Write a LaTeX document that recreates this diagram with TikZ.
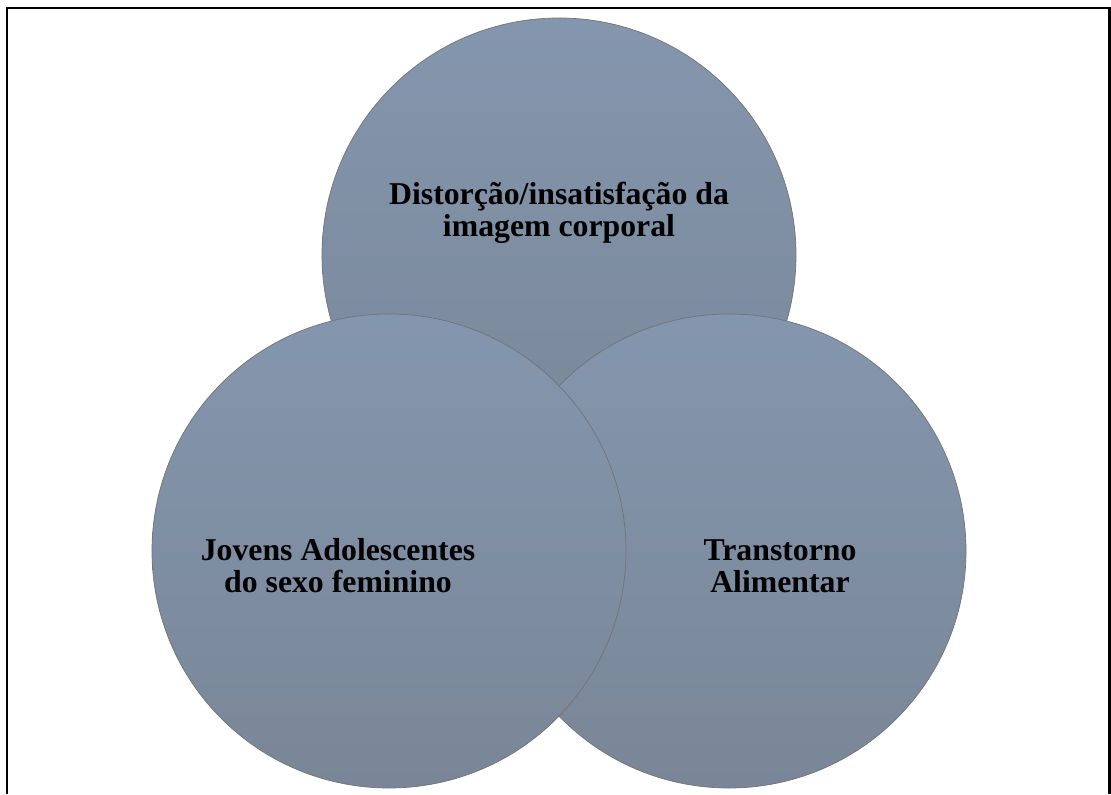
\documentclass[tikz,border=0pt]{standalone}
\usepackage{fontspec}
\setmainfont{Liberation Serif}
\usetikzlibrary{calc,positioning}

\tikzset{
	bubble/.style={circle, minimum size=11.85cm, inner sep=0pt, draw=black!55, line width=0.5pt,
		top color={rgb,255:red,132;green,150;blue,174}, bottom color={rgb,255:red,121;green,134;blue,151}},
	label/.style={align=center, font=\bfseries\fontsize{22.6}{22.6}\selectfont}
}

\begin{document}
\begin{tikzpicture}
		\useasboundingbox (0,0) rectangle (27.775,19.85);
		\draw [line width=2.1pt] (0.175,0) -- (0.175,19.65) -- (27.74,19.65) -- (27.74,0);
		\node [bubble] (top) at (13.975,13.475) {};
		\node [bubble] (right) at (18.225,6.075) {};
		\node [bubble] (left) at (9.725,6.075) {};
		\node [label] (imagem) at ($(top) + (0,1.05)$) {Distorção/insatisfação da\\imagem corporal};
		\node [label] (jovens) at ($(left) + (-1.275,-0.375)$) {Jovens Adolescentes\\do sexo feminino};
		\node [label] (transtorno) at ($(right) + (1.275,-0.375)$) {Transtorno\\Alimentar};
		\end{tikzpicture}
\end{document}
